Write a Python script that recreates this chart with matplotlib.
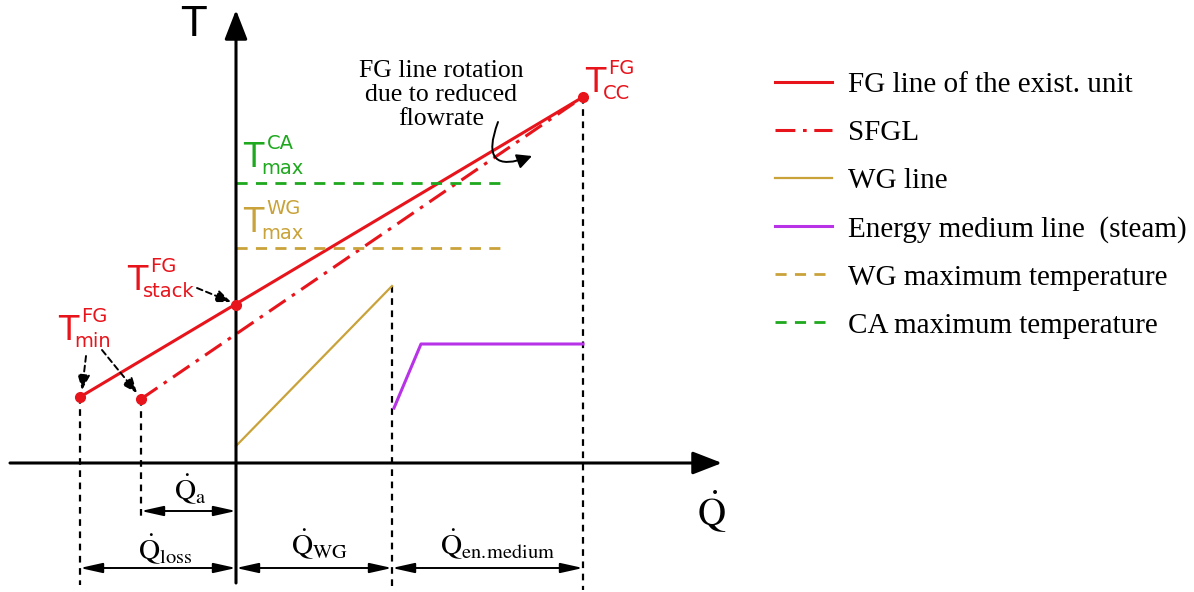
import matplotlib
matplotlib.use('Agg')
import matplotlib.pyplot as plt

# schematic T-Q diagram, coordinates: Q to the right, T up, origin at axis crossing
RED = '#e8141c'
GREEN = '#1ea81e'
GOLD = '#c9a23a'
PURPLE = '#b833e8'

fg_q = [-156, 347]
fg_t = [66, 366]
sfgl_q = [-95, 347]
sfgl_t = [64, 366]
stack_q, stack_t = 0, 158
wg_q = [0, 156]
wg_t = [17, 177]
steam_q = [158, 185, 347]
steam_t = [55, 119, 119]
t_max_ca = 280
t_max_wg = 215
t_max_end = 264
q_bounds = [-156, -95, 0, 156, 347]

legend_labels = ['FG line of the exist. unit', 'SFGL', 'WG line',
                 'Energy medium line  (steam)', 'WG maximum temperature',
                 'CA maximum temperature']


def t_label(ax, x, y, sup, sub, color, sub_dx=13):
    ax.text(x, y, 'T', fontsize=24, color=color, ha='left', va='baseline')
    ax.annotate(sup, (x, y), xytext=(17, 13), textcoords='offset points',
                fontsize=14, color=color, ha='left', va='baseline')
    ax.annotate(sub, (x, y), xytext=(sub_dx, -5), textcoords='offset points',
                fontsize=14, color=color, ha='left', va='baseline')


fig = plt.figure(figsize=(11.94, 5.92), dpi=100)
ax = fig.add_axes([0, 0, 1, 1])
ax.set_xlim(-236, 958)
ax.set_ylim(-129, 463)
ax.axis('off')

# axes with arrow heads
axis_arrow = dict(arrowstyle='-|>,head_length=0.9,head_width=0.35', lw=2.2,
                  color='k', mutation_scale=20, shrinkA=0, shrinkB=0)
ax.annotate('', xy=(486, 0), xytext=(-226, 0), arrowprops=axis_arrow)
ax.annotate('', xy=(0, 453), xytext=(0, -120), arrowprops=axis_arrow)

# vertical guide lines
vdash = dict(color='k', lw=1.6, ls=(0, (3, 2.5)))
ax.plot([fg_q[0], fg_q[0]], [fg_t[0], -122], **vdash)
ax.plot([sfgl_q[0], sfgl_q[0]], [sfgl_t[0], -57], **vdash)
ax.plot([wg_q[1], wg_q[1]], [wg_t[1], -127], **vdash)
ax.plot([fg_q[1], fg_q[1]], [fg_t[1], -127], **vdash)

# lines
h_fg, = ax.plot(fg_q, fg_t, color=RED, lw=2.2)
h_sfgl, = ax.plot(sfgl_q, sfgl_t, color=RED, lw=2.2, ls=(0, (6.5, 2.5, 1.2, 2.5)))
h_wg, = ax.plot(wg_q, wg_t, color=GOLD, lw=1.6)
h_steam, = ax.plot(steam_q, steam_t, color=PURPLE, lw=2.2)
h_wgmax, = ax.plot([0, t_max_end], [t_max_wg, t_max_wg], color=GOLD, lw=2, ls=(0, (4, 3)))
h_camax, = ax.plot([0, t_max_end], [t_max_ca, t_max_ca], color=GREEN, lw=2, ls=(0, (4, 3)))

ax.plot([fg_q[0], sfgl_q[0], stack_q, fg_q[1]], [fg_t[0], sfgl_t[0], stack_t, fg_t[1]],
        'o', color=RED, ms=7, zorder=5)

# dimension arrows
dim = dict(arrowstyle='<|-|>,head_length=0.9,head_width=0.2', lw=1.4, color='k',
           mutation_scale=15, shrinkA=0, shrinkB=0)
ax.annotate('', xy=(q_bounds[1], -48), xytext=(q_bounds[2], -48), arrowprops=dim)
for a, b in [(0, 2), (2, 3), (3, 4)]:
    ax.annotate('', xy=(q_bounds[a], -105), xytext=(q_bounds[b], -105), arrowprops=dim)

qkw = dict(fontsize=21, ha='center', va='center', math_fontfamily='stix')
ax.text(-46, -27, r'$\dot{\mathrm{Q}}_{\mathrm{a}}$', **qkw)
ax.text(-71, -87, r'$\dot{\mathrm{Q}}_{\mathrm{loss}}$', **qkw)
ax.text(84, -82, r'$\dot{\mathrm{Q}}_{\mathrm{WG}}$', **qkw)
ax.text(262, -82, r'$\dot{\mathrm{Q}}_{\mathrm{en.\!medium}}$', **qkw)
ax.text(476, -49, r'$\dot{\mathrm{Q}}$', fontsize=28, ha='center', va='center',
        math_fontfamily='stix')
ax.text(-43, 438, 'T', fontsize=29, ha='center', va='center')

t_label(ax, 7, 296, 'CA', 'max', GREEN)
t_label(ax, 7, 231, 'WG', 'max', GOLD)
t_label(ax, -109, 173, 'FG', 'stack', RED, sub_dx=11.5)
t_label(ax, -178, 123, 'FG', 'min', RED, sub_dx=12)
t_label(ax, 349, 371, 'FG', 'CC', RED)

# dashed pointer arrows
ptr = dict(arrowstyle='-|>,head_length=0.6,head_width=0.25', lw=1.4, color='k',
           ls=(0, (3, 2)), mutation_scale=15, shrinkA=0, shrinkB=0)
ax.annotate('', xy=(-5, 161), xytext=(-39, 175), arrowprops=ptr)
ax.annotate('', xy=(-154, 73), xytext=(-150, 107), arrowprops=ptr)
ax.annotate('', xy=(-99, 70), xytext=(-134, 113), arrowprops=ptr)

ax.text(205, 368, 'FG line rotation\ndue to reduced\nflowrate', fontsize=18.5,
        family='Liberation Serif', ha='center', va='center', multialignment='center',
        linespacing=1.1)
ax.annotate('', xy=(296, 307), xytext=(262, 341),
            arrowprops=dict(arrowstyle='-|>,head_length=0.6,head_width=0.3', lw=1.4,
                            color='k', mutation_scale=15, shrinkA=0, shrinkB=0,
                            connectionstyle='arc3,rad=1.1'))

handles = [h_fg, h_sfgl, h_wg, h_steam, h_wgmax, h_camax]
fig.legend(handles, legend_labels, loc='upper left', bbox_to_anchor=(0.649, 0.879),
           frameon=False, prop={'family': 'Liberation Serif', 'size': 21},
           handlelength=1.95, handletextpad=0.55, labelspacing=0.74,
           borderaxespad=0, borderpad=0)

fig.savefig('out.png', dpi=100)
